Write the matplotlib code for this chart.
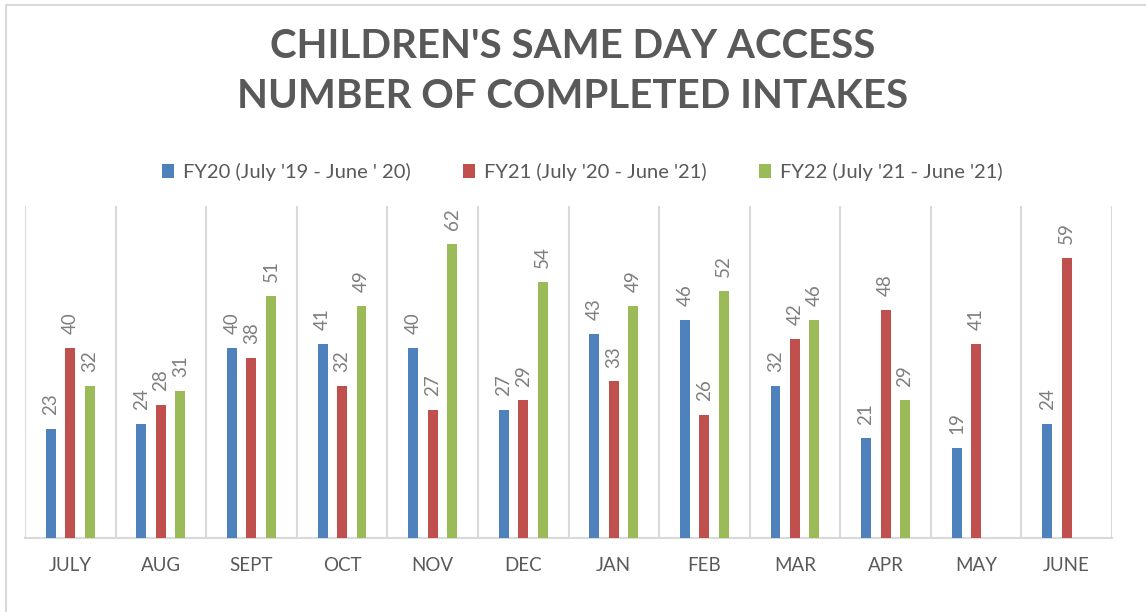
import numpy as np
import matplotlib
matplotlib.use('Agg')
import matplotlib.pyplot as plt
from matplotlib.patches import Rectangle

plt.rcParams['font.family'] = ['Lato', 'DejaVu Sans']

months = ['JULY', 'AUG', 'SEPT', 'OCT', 'NOV', 'DEC', 'JAN', 'FEB', 'MAR', 'APR', 'MAY', 'JUNE']
fy20 = [23, 24, 40, 41, 40, 27, 43, 46, 32, 21, 19, 24]
fy21 = [40, 28, 38, 32, 27, 29, 33, 26, 42, 48, 41, 59]
fy22 = [32, 31, 51, 49, 62, 54, 49, 52, 46, 29, None, None]
series_names = ["FY20 (July '19 - June ' 20)", "FY21 (July '20 - June '21)", "FY22 (July '21 - June '21)"]
colors = ['#4F81BD', '#C0504D', '#9BBB59']

fig = plt.figure(figsize=(11.46, 6.12), dpi=100)
W, H = 1146, 612
# outer chart border
fig.patches.append(Rectangle((6 / W, -0.01), 1.02, (H - 5) / H + 0.01, transform=fig.transFigure,
                             fill=False, edgecolor='#D9D9D9', linewidth=1.5))

ax = fig.add_axes([25 / W, (H - 538) / H, (1112 - 25) / W, (538 - 206) / H])

x = np.arange(len(months))
offsets = [-0.215, 0, 0.215]
bw = 0.11
handles = []
for vals, off, col, name in zip([fy20, fy21, fy22], offsets, colors, series_names):
    xs = [xi + off for xi, v in zip(x, vals) if v is not None]
    ys = [v for v in vals if v is not None]
    b = ax.bar(xs, ys, width=bw, color=col, label=name, zorder=3)
    handles.append(b)
    for xi, v in zip(xs, ys):
        ax.annotate(str(v), (xi, v), xytext=(0, 10), textcoords='offset points',
                    rotation=90, ha='center', va='bottom', fontsize=13.5, color='#7F7F7F')

ax.set_xlim(-0.5, len(months) - 0.5)
ax.set_ylim(0, 70)
ax.set_yticks([])
ax.set_xticks(x)
ax.set_xticklabels(months, fontsize=13.5, color='#595959')
ax.tick_params(axis='x', length=0, pad=14)
for b in np.arange(-0.5, len(months), 1.0):
    ax.axvline(b, color='#D9D9D9', linewidth=1.5, zorder=1)
for s in ['top', 'left', 'right']:
    ax.spines[s].set_visible(False)
ax.spines['bottom'].set_color('#D9D9D9')
ax.spines['bottom'].set_linewidth(1.5)

fig.text(0.5, (H - 46) / H, "CHILDREN'S SAME DAY ACCESS", ha='center', va='center',
         fontsize=29, fontweight='bold', color='#595959')
fig.text(0.5, (H - 97) / H, "NUMBER OF COMPLETED INTAKES", ha='center', va='center',
         fontsize=29, fontweight='bold', color='#595959')

fig.legend(handles=handles, loc='center', bbox_to_anchor=(0.508, (H - 172) / H), ncol=3,
           frameon=False, fontsize=14.5, labelcolor='#595959', handlelength=0.6, handleheight=0.7,
           handletextpad=0.45, columnspacing=2.6)

fig.savefig('out.png', dpi=100, facecolor='white')
